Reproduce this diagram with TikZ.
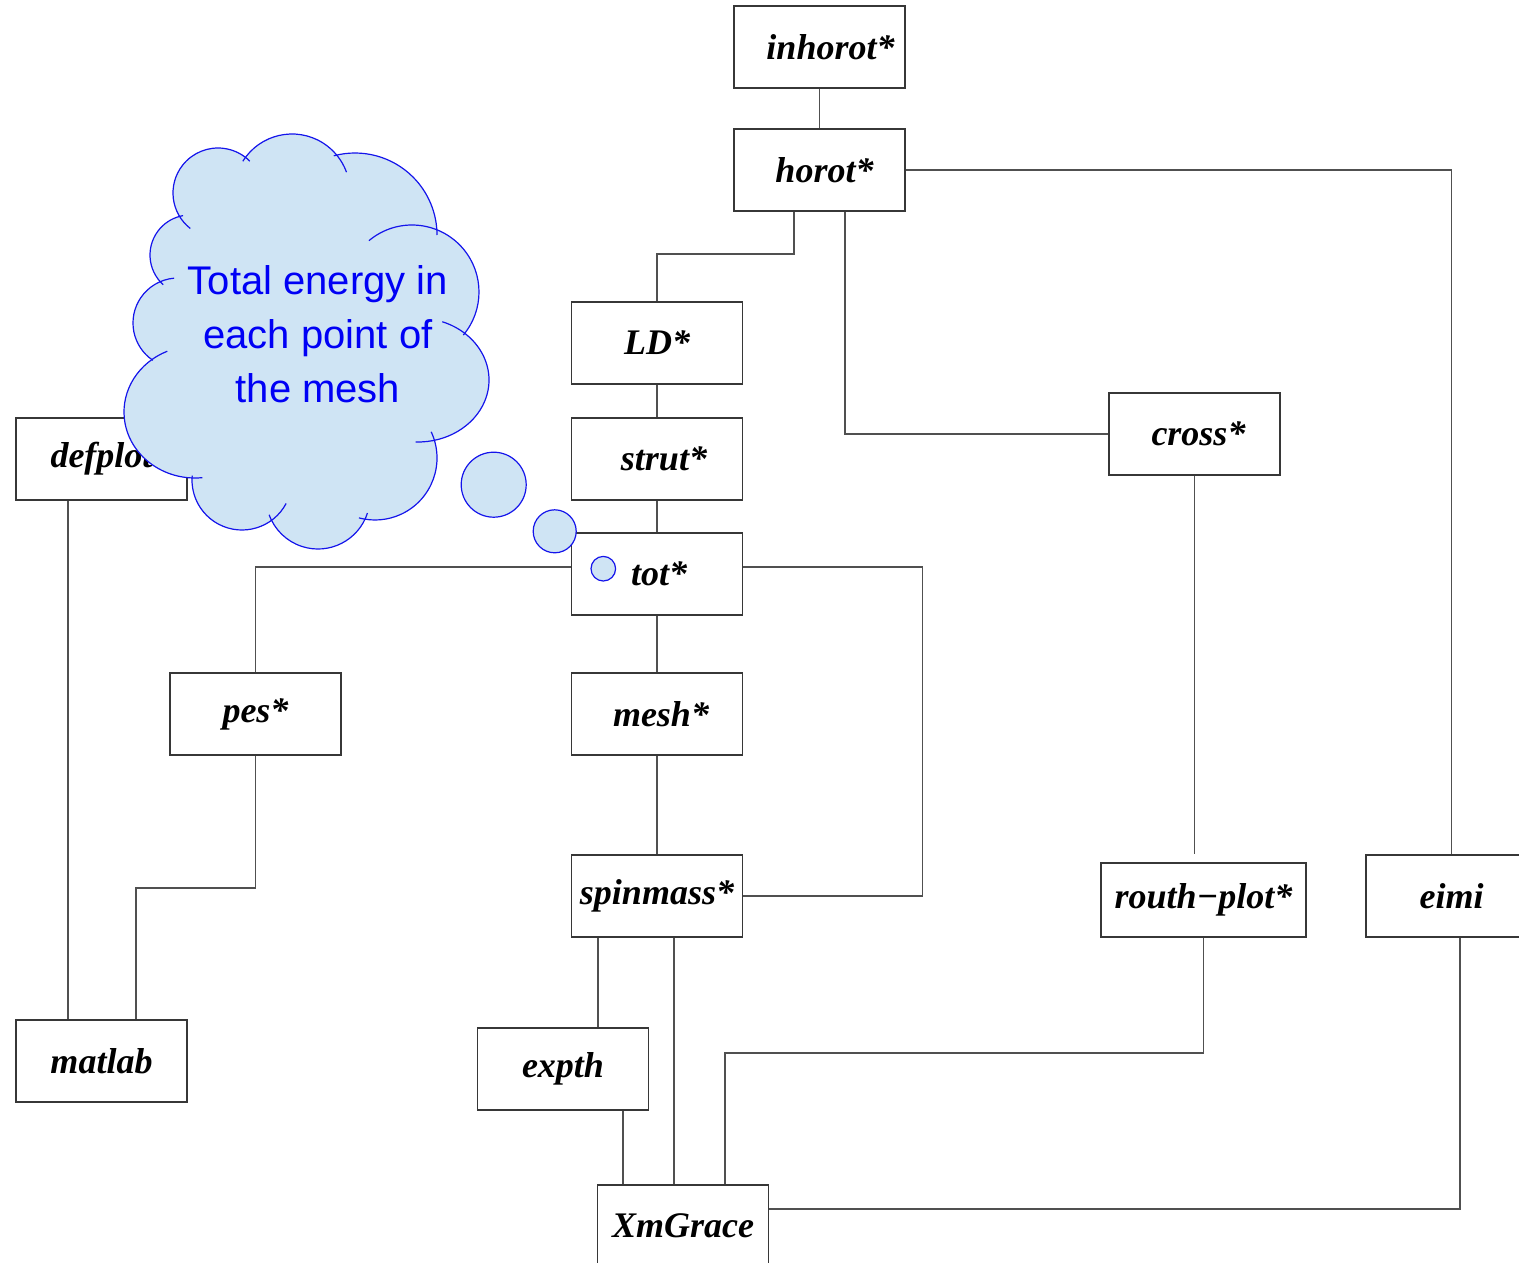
\documentclass[tikz,border=0pt]{standalone}
\usepackage{fontspec}
\setmainfont{Liberation Serif}
\newfontfamily\calloutfont{Liberation Sans}
\usetikzlibrary{calc}

\definecolor{boxline}{RGB}{55,55,55}
\definecolor{wireline}{RGB}{80,80,80}
\definecolor{cloudfill}{RGB}{207,228,244}
\definecolor{cloudedge}{RGB}{20,20,235}
\definecolor{cloudtext}{RGB}{0,0,245}

\tikzset{
  module/.style={draw=boxline, line width=1.8pt, fill=white,
    minimum width=171pt, minimum height=82pt, inner sep=0pt,
    font=\fontsize{36}{36}\selectfont\bfseries\itshape},
  wire/.style={draw=wireline, line width=1.6pt},
  puff/.style={fill=cloudfill},
  puffedge/.style={draw=cloudedge, line width=1.2pt},
}

\begin{document}
\begin{tikzpicture}[x=1pt,y=1pt]
\useasboundingbox (0,0) rectangle (1519,-1263);

% modules
\node[module] (inhorot)  at (819.5,-47)   {\hspace{22pt}inhorot*};
\node[module] (horot)    at (819.5,-170)  {\hspace{10pt}horot*};
\node[module] (LD)       at (657,-343)    {LD*};
\node[module] (strut)    at (657,-459)    {\hspace{14pt}strut*};
\node[module] (tot)      at (657,-574)    {\hspace{4pt}tot*};
\node[module] (mesh)     at (657,-714)    {\hspace{8pt}mesh*};
\node[module] (spinmass) at (657,-896)    {spinmass*};
\node[module] (expth)    at (563,-1069)   {expth};
\node[module] (XmGrace)  at (683,-1226)   {XmGrace};
\node[module] (pes)      at (255.5,-714)  {pes*};
\node[module] (defplot)  at (101.5,-459)  {defplot};
\node[module] (matlab)   at (101.5,-1061) {matlab};
\node[module] (cross)    at (1194.5,-434) {\hspace{8pt}cross*};
\node[module, minimum width=205pt, minimum height=74pt] (routh) at (1203.5,-900) {routh−plot*};
\node[module] (eimi)     at (1451.5,-896) {eimi};

% connections
\draw[wire] (inhorot.south) -- (horot.north);
\draw[wire] (horot.east) -| (eimi.north);
\draw[wire] ($(horot.south)+(-25.5,0)$) -- ++(0,-42) -| (LD.north);
\draw[wire] ($(horot.south)+(25.5,0)$) |- (cross.west);
\draw[wire] (LD.south) -- (strut.north);
\draw[wire] (strut.south) -- (tot.north);
\draw[wire] ($(tot.west)+(0,7)$) -| (pes.north);
\draw[wire] ($(tot.east)+(0,7)$) -- ++(179,0) |- (spinmass.east);
\draw[wire] (tot.south) -- (mesh.north);
\draw[wire] (mesh.south) -- (spinmass.north);
\draw[wire] ($(spinmass.south)+(-59,0)$) -- ($(expth.north)+(35,0)$);
\draw[wire] ($(spinmass.south)+(17,0)$) -- ($(XmGrace.north)+(-9,0)$);
\draw[wire] ($(expth.south)+(60,0)$) -- ($(XmGrace.north)+(-60,0)$);
\draw[wire] (pes.south) -- ++(0,-132) -| ($(matlab.north)+(34.5,0)$);
\draw[wire] ($(defplot.south)+(-33.5,0)$) -- ($(matlab.north)+(-33.5,0)$);
\draw[wire] (cross.south) -- ($(routh.north)+(-9,8)$);
\draw[wire] (routh.south) -- ++(0,-115) -| ($(XmGrace.north)+(42,0)$);
\draw[wire] ($(eimi.south)+(8.5,0)$) |- ($(XmGrace.east)+(0,17)$);

% thought cloud: filled body of puffs, then the puff outlines
\fill[puff] (218,-193) -- (292,-192) -- (355,-235) -- (412,-292) -- (418,-380)
  -- (375,-458) -- (318,-497) -- (242,-480) -- (195,-412) -- (178,-323)
  -- (190,-255) -- cycle;
\def\puffs{
    218/193/45/45/232/45,
    292/192/58/58/148/20,
    355/235/82/82/105/0,
    412/292/67/67/130/-40,
    418/380/71/62/70/-92,
    375/458/62/62/25/-105,
    318/497/52/52/-18/-160,
    242/480/50/50/-28/-185,
    195/412/71/66/-84/-247,
    178/323/45/45/-124/-265,
    190/255/40/40/-132/-260}
\foreach \cx/\cy/\rx/\ry/\a/\b in \puffs {
  \fill[puff] (\cx,-\cy) ellipse[x radius=\rx, y radius=\ry];
}
\foreach \cx/\cy/\rx/\ry/\a/\b in \puffs {
  \draw[puffedge] (\cx,-\cy) ++({\rx*cos(\a)},{\ry*sin(\a)})
    arc[start angle=\a, end angle=\b, x radius=\rx, y radius=\ry];
}
\node[text=cloudtext, align=center, inner sep=0pt,
      font=\calloutfont\fontsize{40}{54}\selectfont] (note) at (318,-334.5)
  {Total energy in\\each point of\\the mesh};

% trailing bubbles
\draw[puffedge, fill=cloudfill] (493.7,-484.7) circle[radius=32.5];
\draw[puffedge, fill=cloudfill] (554.7,-531.3) circle[radius=21.5];
\draw[puffedge, fill=cloudfill] (603.3,-568.7) circle[radius=12.3];
\end{tikzpicture}
\end{document}
